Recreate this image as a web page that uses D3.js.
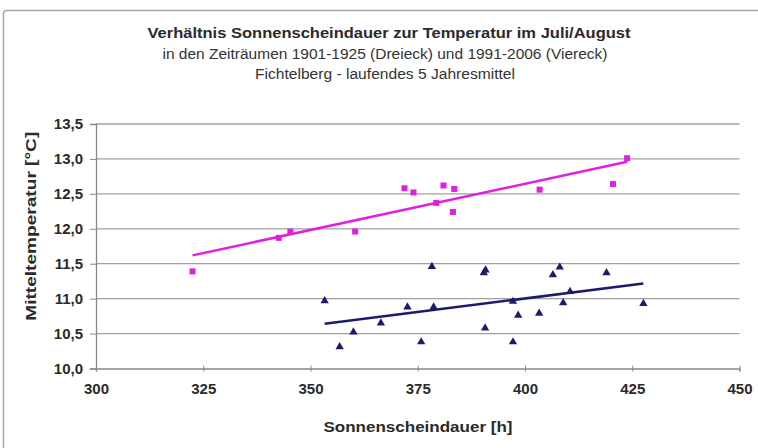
<!DOCTYPE html>
<html lang="de">
  <head>
    <meta charset="utf-8">
    <title>Sonnenscheindauer / Temperatur Fichtelberg</title>
    <style>
      body { margin: 0; background: #fff; font-family: Arial, "Liberation Sans", sans-serif; overflow: hidden; }
      svg { display: block; }
    </style>
  </head>
  <body>
    <svg width="758" height="448"></svg>
    <script src="https://d3js.org/d3.v7.min.js"></script>
    <script>
      // 1991-2006 (Viereck): Sonnenscheindauer [h], Mitteltemperatur [°C]
      const sunNew  = [322.5, 342.6, 345.3, 360.4, 371.9, 374.0, 379.3, 381.0, 383.2, 383.5, 403.4, 420.5, 423.8];
      const tempNew = [11.39, 11.87, 11.96, 11.96, 12.58, 12.52, 12.37, 12.62, 12.24, 12.57, 12.56, 12.64, 13.01];

      // 1901-1925 (Dreieck)
      const sunOld  = [353.3, 356.8, 360.0, 366.4, 372.6, 375.8, 378.3, 378.7, 390.4, 390.8, 390.7, 397.2, 397.2,
                       398.4, 403.3, 406.5, 408.1, 408.9, 410.5, 419.0, 427.6];
      const tempOld = [10.97, 10.31, 10.52, 10.65, 10.88, 10.38, 11.46, 10.88, 11.37, 11.41, 10.58, 10.96, 10.38,
                       10.76, 10.79, 11.34, 11.45, 10.94, 11.10, 11.37, 10.93];

      const xTicks = [300, 325, 350, 375, 400, 425, 450];
      const yTicks = [10.0, 10.5, 11.0, 11.5, 12.0, 12.5, 13.0, 13.5];

      const titleLines = [
        "Verhältnis Sonnenscheindauer zur Temperatur im Juli/August",
        "in den Zeiträumen 1901-1925 (Dreieck) und 1991-2006 (Viereck)",
        "Fichtelberg - laufendes 5 Jahresmittel"
      ];

      const svg = d3.select("svg");
      const margin = {left: 96, right: 18.5, top: 124, bottom: 79.5};
      const W = 758, H = 448;
      const ink = "#2a2a2a";

      const x = d3.scaleLinear().domain([300, 450]).range([margin.left, W - margin.right]);
      const y = d3.scaleLinear().domain([10, 13.5]).range([H - margin.bottom, margin.top]);

      // outer chart frame (runs off the right and bottom edge)
      svg.append("rect")
        .attr("x", 3.5).attr("y", 10.5)
        .attr("width", 820).attr("height", 480)
        .attr("rx", 3)
        .attr("fill", "#fff")
        .attr("stroke", "#a8a8a8")
        .attr("stroke-width", 1.5);

      // titles
      svg.append("text")
        .attr("x", 389).attr("y", 38)
        .attr("text-anchor", "middle")
        .attr("font-size", 15.5).attr("font-weight", "bold")
        .attr("textLength", 483).attr("lengthAdjust", "spacingAndGlyphs")
        .attr("fill", ink)
        .text(titleLines[0]);
      svg.selectAll("text.sub")
        .data(titleLines.slice(1))
        .join("text")
          .attr("class", "sub")
          .attr("x", 385).attr("y", (d, i) => 59 + i * 20)
          .attr("text-anchor", "middle")
          .attr("font-size", 14)
          .attr("textLength", (d, i) => i === 0 ? 445 : 260)
          .attr("lengthAdjust", "spacingAndGlyphs")
          .attr("fill", "#333")
          .text(d => d);

      // gridlines
      svg.append("g")
        .selectAll("line")
        .data(yTicks.slice(1))
        .join("line")
          .attr("x1", x(300)).attr("x2", x(450))
          .attr("y1", d => y(d)).attr("y2", d => y(d))
          .attr("stroke", "#a0a0a0")
          .attr("stroke-width", 1.3);

      const fmt = d => d3.format(".1f")(d).replace(".", ",");

      const yAxis = svg.append("g")
        .attr("transform", `translate(${x(300)},0)`)
        .call(d3.axisLeft(y).tickValues(yTicks).tickFormat(fmt).tickSize(6).tickPadding(7));
      yAxis.select(".domain").attr("stroke", "#888").attr("stroke-width", 1.3);
      yAxis.selectAll(".tick line").attr("stroke", "#888");
      yAxis.selectAll("text")
        .attr("font-size", 15).attr("font-weight", "bold")
        .attr("fill", ink).attr("font-family", "Arial, 'Liberation Sans', sans-serif");

      const xAxis = svg.append("g")
        .attr("transform", `translate(0,${y(10)})`)
        .call(d3.axisBottom(x).tickValues(xTicks).tickSize(3).tickPadding(12));
      xAxis.select(".domain").attr("stroke", "#888").attr("stroke-width", 1.3);
      xAxis.selectAll(".tick line").attr("stroke", "#888").attr("y1", -3);
      xAxis.selectAll("text")
        .attr("font-size", 15).attr("font-weight", "bold")
        .attr("fill", ink).attr("font-family", "Arial, 'Liberation Sans', sans-serif");

      // axis titles
      svg.append("text")
        .attr("x", 418).attr("y", 432)
        .attr("text-anchor", "middle")
        .attr("font-size", 14.5).attr("font-weight", "bold")
        .attr("textLength", 189).attr("lengthAdjust", "spacingAndGlyphs")
        .attr("fill", ink)
        .text("Sonnenscheindauer [h]");
      svg.append("text")
        .attr("transform", `translate(36,${(y(10) + y(13.5)) / 2 - 20}) rotate(-90)`)
        .attr("text-anchor", "middle")
        .attr("font-size", 14.5).attr("font-weight", "bold")
        .attr("textLength", 189).attr("lengthAdjust", "spacingAndGlyphs")
        .attr("fill", ink)
        .text("Mitteltemperatur [°C]");

      // linear trend (least squares) from min to max x
      function trend(xs, ys) {
        const mx = d3.mean(xs), my = d3.mean(ys);
        const b = d3.sum(xs, (v, i) => (v - mx) * (ys[i] - my)) / d3.sum(xs, v => (v - mx) ** 2);
        const a = my - b * mx;
        const [x0, x1] = d3.extent(xs);
        return [[x0, a + b * x0], [x1, a + b * x1]];
      }

      const magenta = "#e020e0";
      const navy = "#1c1c6e";

      const line = d3.line().x(d => x(d[0])).y(d => y(d[1]));

      svg.append("path")
        .attr("d", line(trend(sunNew, tempNew)))
        .attr("stroke", magenta).attr("stroke-width", 2.5).attr("fill", "none");
      svg.append("path")
        .attr("d", line(trend(sunOld, tempOld)))
        .attr("stroke", navy).attr("stroke-width", 2.5).attr("fill", "none");

      svg.append("g")
        .selectAll("rect")
        .data(sunNew.map((v, i) => [v, tempNew[i]]))
        .join("rect")
          .attr("x", d => x(d[0]) - 3).attr("y", d => y(d[1]) - 3)
          .attr("width", 6).attr("height", 6)
          .attr("fill", magenta);

      const tri = d3.symbol().type(d3.symbolTriangle).size(30);
      svg.append("g")
        .selectAll("path")
        .data(sunOld.map((v, i) => [v, tempOld[i]]))
        .join("path")
          .attr("d", tri)
          .attr("transform", d => `translate(${x(d[0])},${y(d[1])})`)
          .attr("fill", navy);
    </script>
  </body>
</html>
